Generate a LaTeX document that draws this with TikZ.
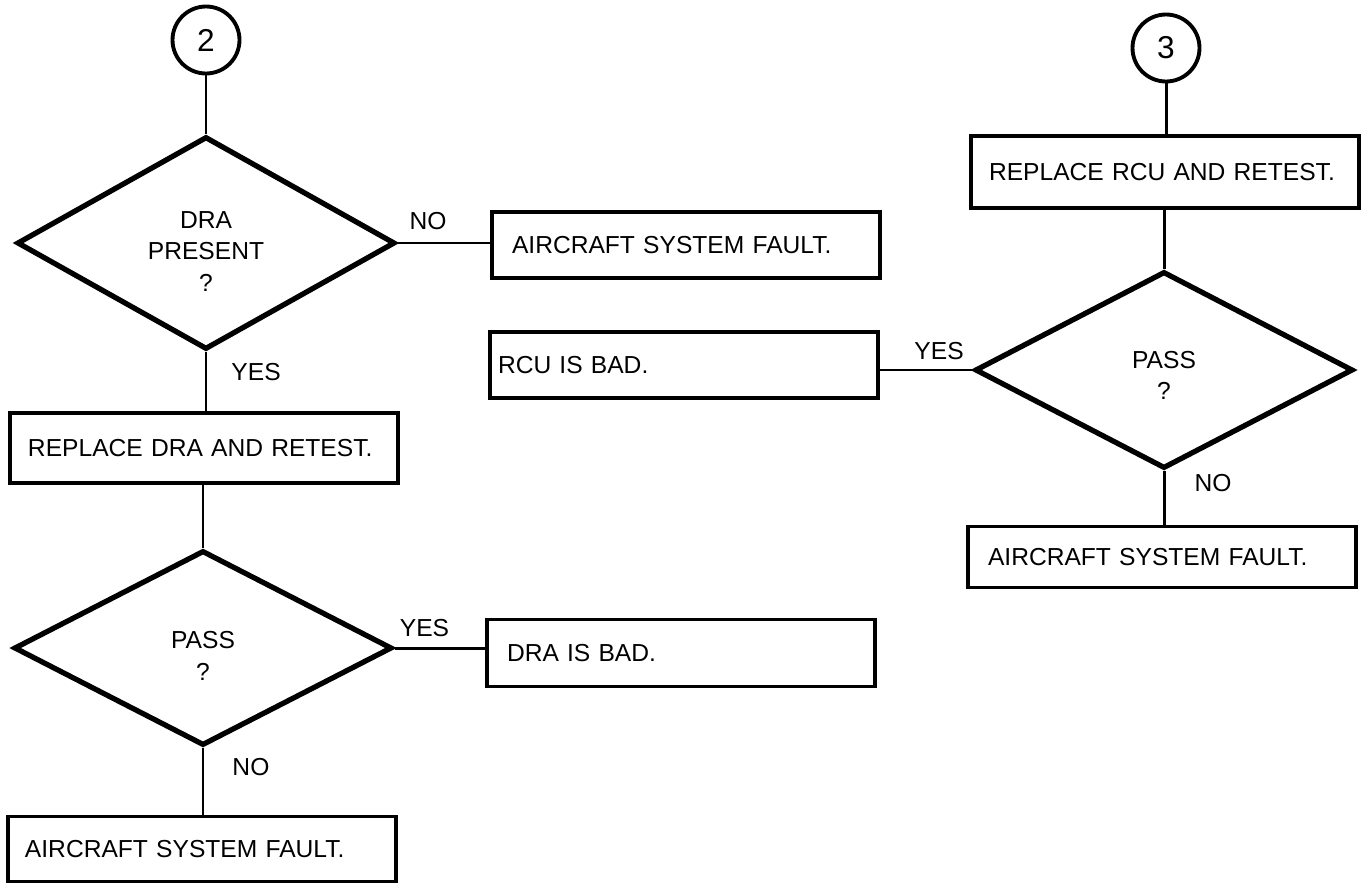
\documentclass[tikz,border=0pt]{standalone}
\usepackage{fontspec}
\setmainfont{Liberation Sans}
\usetikzlibrary{shapes.geometric}
\begin{document}
\begin{tikzpicture}[x=0.2mm,y=-0.2mm,font=\fontsize{14}{18}\selectfont,
  action-box/.style={draw=black,line width=2.2pt,minimum height=13.2mm,inner xsep=4mm,inner ysep=0pt,text width=69.6mm,align=left},
  decision-box/.style={draw=black,line width=3pt,diamond,minimum width=75.6mm,minimum height=39mm,inner sep=0pt,align=center},
  entry-circle/.style={draw=black,line width=2.2pt,circle,minimum size=13.4mm,inner sep=0pt,font=\fontsize{18}{20}\selectfont},
  flow-line/.style={draw=black,line width=1.7pt},
  branch-label/.style={inner sep=0pt}]
\useasboundingbox (0,0) rectangle (1370,883);
\node[entry-circle] (entry-2) at (206,40) {2};
\node[decision-box] (dra-present) at (206,243) {\rule{0pt}{19pt}DRA\\PRESENT\\?};
\node[action-box,minimum height=14mm,inner xsep=3.6mm,text width=70.4mm] (replace-dra) at (204,448) {REPLACE DRA AND RETEST.};
\node[decision-box] (dra-pass) at (203,648) {\rule{0pt}{19pt}PASS\\?};
\node[action-box,minimum height=13mm,inner xsep=3.4mm,text width=70.8mm] (dra-fault) at (202,849) {AIRCRAFT SYSTEM FAULT.};
\node[action-box] (system-fault) at (686,245) {AIRCRAFT SYSTEM FAULT.};
\node[action-box,inner xsep=1.6mm,text width=74.4mm] (rcu-bad) at (684,365) {RCU IS BAD.};
\node[action-box,minimum height=13.4mm] (dra-bad) at (681,653) {DRA IS BAD.};
\node[entry-circle] (entry-3) at (1166,48) {3};
\node[action-box,minimum height=14.4mm,inner xsep=3.6mm,text width=70.4mm] (replace-rcu) at (1165,172) {REPLACE RCU AND RETEST.};
\node[decision-box,minimum height=39.4mm] (rcu-pass) at (1164,370) {\rule{0pt}{16pt}PASS\\?};
\node[action-box,minimum height=12.2mm] (rcu-fault) at (1162,557) {AIRCRAFT SYSTEM FAULT.};
\draw[flow-line] (entry-2.south) -- (dra-present.north);
\draw[flow-line] (dra-present.south) -- node[branch-label,pos=0.33,anchor=west,xshift=4.8mm] (yes-dra-present) {YES} (dra-present.south |- replace-dra.north);
\draw[flow-line] (dra-present.east) -- node[branch-label,pos=0.33,anchor=south,yshift=2.4mm] (no-dra-present) {NO} (dra-present.east -| system-fault.west);
\draw[flow-line] (dra-pass.north |- replace-dra.south) -- (dra-pass.north);
\draw[flow-line] (dra-pass.east) -- node[branch-label,pos=0.33,anchor=south,yshift=2mm] (yes-dra-pass) {YES} (dra-pass.east -| dra-bad.west);
\draw[flow-line] (dra-pass.south) -- node[branch-label,pos=0.28,anchor=west,xshift=5.6mm] (no-dra-pass) {NO} (dra-pass.south |- dra-fault.north);
\draw[flow-line] (entry-3.south) -- (entry-3.south |- replace-rcu.north);
\draw[flow-line] (rcu-pass.north |- replace-rcu.south) -- (rcu-pass.north);
\draw[flow-line] (rcu-pass.west) -- node[branch-label,pos=0.36,anchor=south,yshift=1.8mm] (yes-rcu-pass) {YES} (rcu-pass.west -| rcu-bad.east);
\draw[flow-line] (rcu-pass.south) -- node[branch-label,pos=0.22,anchor=west,xshift=5.8mm] (no-rcu-pass) {NO} (rcu-pass.south |- rcu-fault.north);
\end{tikzpicture}
\end{document}
